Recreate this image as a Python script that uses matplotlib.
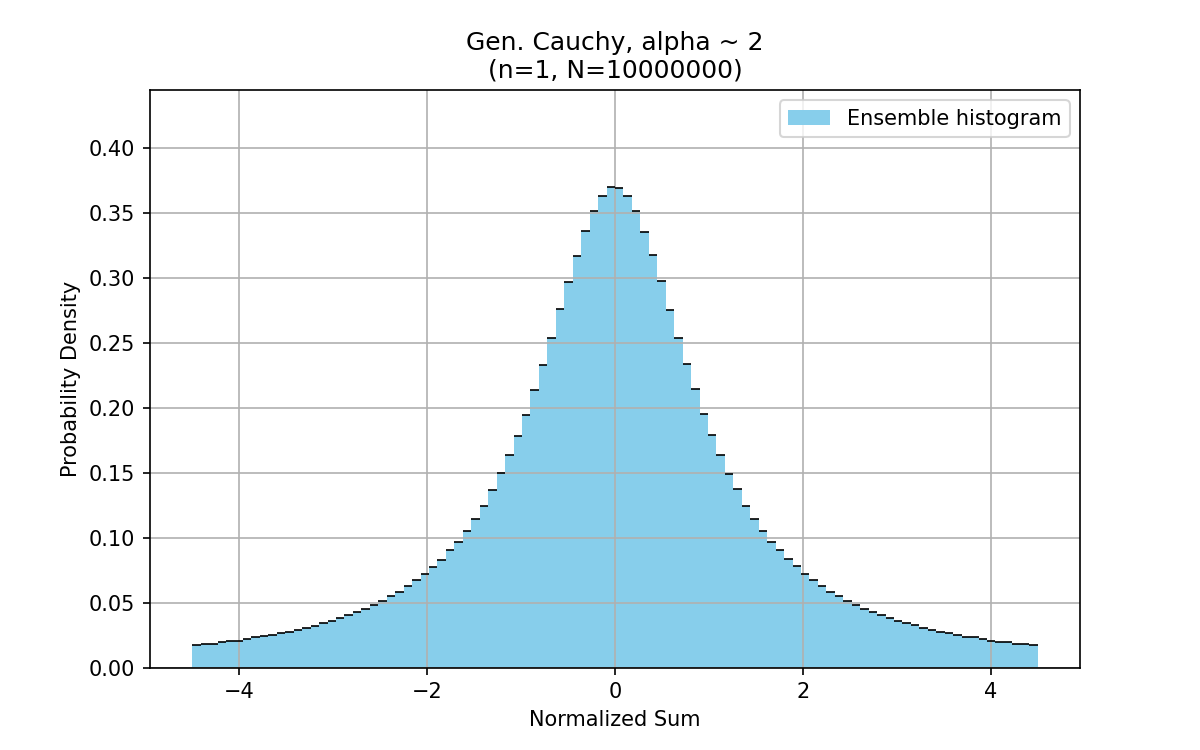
import numpy as np
import matplotlib
matplotlib.use("Agg")
import matplotlib.pyplot as plt

# Histogram of the normalized sum, 100 bins between -4.5 and 4.5
x_min, x_max = -4.5, 4.5
n_bins = 100

# bin heights (probability density)
density = [
    0.0174, 0.0182, 0.0183, 0.0200, 0.0205, 0.0206, 0.0221, 0.0231, 0.0244, 0.0254,
    0.0267, 0.0277, 0.0290, 0.0305, 0.0321, 0.0344, 0.0359, 0.0382, 0.0405, 0.0428,
    0.0451, 0.0482, 0.0513, 0.0551, 0.0582, 0.0628, 0.0677, 0.0720, 0.0774, 0.0828,
    0.0905, 0.0970, 0.1050, 0.1144, 0.1244, 0.1367, 0.1497, 0.1636, 0.1782, 0.1944,
    0.2136, 0.2331, 0.2536, 0.2759, 0.2967, 0.3167, 0.3359, 0.3513, 0.3628, 0.3697,
    0.3692, 0.3628, 0.3513, 0.3351, 0.3174, 0.2974, 0.2754, 0.2536, 0.2336, 0.2144,
    0.1951, 0.1790, 0.1636, 0.1490, 0.1374, 0.1244, 0.1144, 0.1050, 0.0970, 0.0905,
    0.0836, 0.0782, 0.0720, 0.0674, 0.0628, 0.0582, 0.0551, 0.0513, 0.0482, 0.0451,
    0.0428, 0.0405, 0.0382, 0.0359, 0.0344, 0.0328, 0.0305, 0.0290, 0.0277, 0.0267,
    0.0251, 0.0236, 0.0236, 0.0221, 0.0205, 0.0197, 0.0197, 0.0182, 0.0182, 0.0174,
]

title = "Gen. Cauchy, alpha ~ 2\n(n=1, N=10000000)"

edges = np.linspace(x_min, x_max, n_bins + 1)

fig, ax = plt.subplots(figsize=(8, 5), dpi=150)

# same look as plt.hist(..., density=True, color='skyblue')
ax.hist(edges[:-1], bins=edges, weights=density, color="skyblue",
        label="Ensemble histogram")
# small black marks on top of each bin
ax.hlines(density, edges[:-1], edges[1:], colors="k", lw=0.8)

ax.set_ylim(0, 0.4446)
ax.set_xlabel("Normalized Sum")
ax.set_ylabel("Probability Density")
ax.set_title(title)
ax.legend(loc="upper right")
ax.grid(True)

fig.savefig("out.png", dpi=150)
